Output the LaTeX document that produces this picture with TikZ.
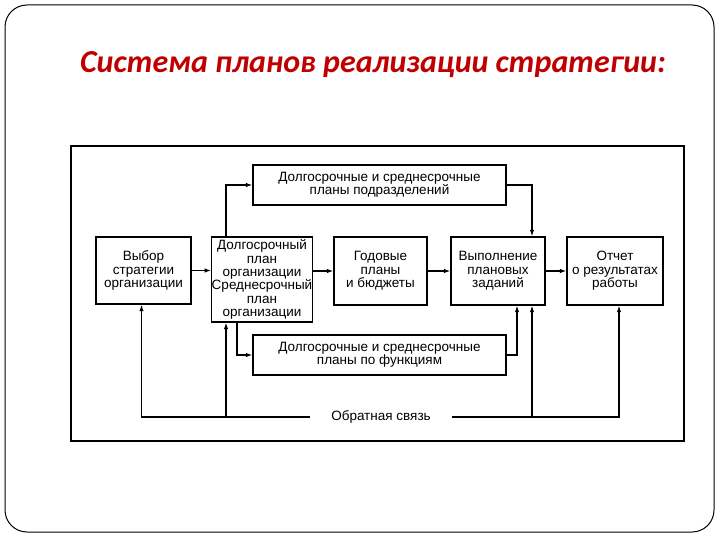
\documentclass[tikz,border=0pt]{standalone}
\usepackage{fontspec}
\setmainfont{Liberation Sans}
\newfontfamily\titlefont{Carlito}
\usepackage{tikz}
\usetikzlibrary{positioning,arrows.meta,calc}
\definecolor{titlered}{HTML}{C00000}
\newcommand{\diagfont}{\fontsize{13.5}{13.4}\selectfont}
\tikzset{
  blk/.style={draw, line width=1.4pt, align=center, inner sep=0pt, font=\diagfont},
  arr/.style={line width=1.1pt, -{Latex[length=6.5pt,width=4.5pt]}},
  ln/.style={line width=1.1pt}
}

\begin{document}
\begin{tikzpicture}[x=1pt,y=-1pt]
  \useasboundingbox (0,0) rectangle (720,540);
  \draw[line width=1pt, rounded corners=22pt](5,5) rectangle (714,532);
  \node[font=\titlefont\bfseries\itshape\fontsize{32}{36}\selectfont, text=titlered] (title) at (373,65) {Система планов реализации стратегии:};
  \draw[line width=1.4pt](71,146) rectangle (684,441);
  % main row
  \node[blk, minimum width=95pt, minimum height=67pt] (choice) at (143.5,270.5) {Выбор\\стратегии\\организации};
  \node[blk, minimum width=98pt, minimum height=85pt] (longplan) at (262,279.5) {Долгосрочный\\план\\организации\\Среднесрочный\\план\\организации};
  \node[blk, minimum width=93pt, minimum height=68pt] (annual) at (380.5,271) {Годовые\\планы\\и бюджеты};
  \node[blk, minimum width=94pt, minimum height=68pt] (execute) at (498,271) {Выполнение\\плановых\\заданий};
  \node[blk, minimum width=96pt, minimum height=68pt] (report) at (615,271) {Отчет\\о результатах\\работы};
  % side plans
  \node[blk, minimum width=253pt, minimum height=40pt] (divplans) at (379.5,185) {Долгосрочные и среднесрочные\\планы подразделений};
  \node[blk, minimum width=253pt, minimum height=40pt] (funcplans) at (379.5,355) {Долгосрочные и среднесрочные\\планы по функциям};
  \node[font=\diagfont, inner xsep=21pt, inner ysep=2pt] (fb) at (381,417) {Обратная связь};
  \draw[arr](choice.east) -- (choice.east -| longplan.west);
  \draw[arr](annual.west -| longplan.east) -- (annual.west);
  \draw[arr](annual.east) -- (execute.west);
  \draw[arr](execute.east) -- (report.west);
  \draw[arr]([xshift=-36pt]longplan.north) |- (divplans.west);
  \draw[arr](divplans.east) -| ([xshift=34pt]execute.north);
  \draw[arr]([xshift=-25pt]longplan.south) |- (funcplans.west);
  \draw[arr](funcplans.east) -| ([xshift=19pt]execute.south);
  % feedback
  \draw[arr](fb.west) -| ([xshift=-2pt]choice.south);
  \draw[arr]([xshift=-36pt]longplan.south |- fb.west) -- ([xshift=-36pt]longplan.south);
  \draw[arr](fb.east) -| ([xshift=4pt]report.south);
  \draw[arr]([xshift=34pt]execute.south |- fb.east) -- ([xshift=34pt]execute.south);
\end{tikzpicture}
\end{document}
